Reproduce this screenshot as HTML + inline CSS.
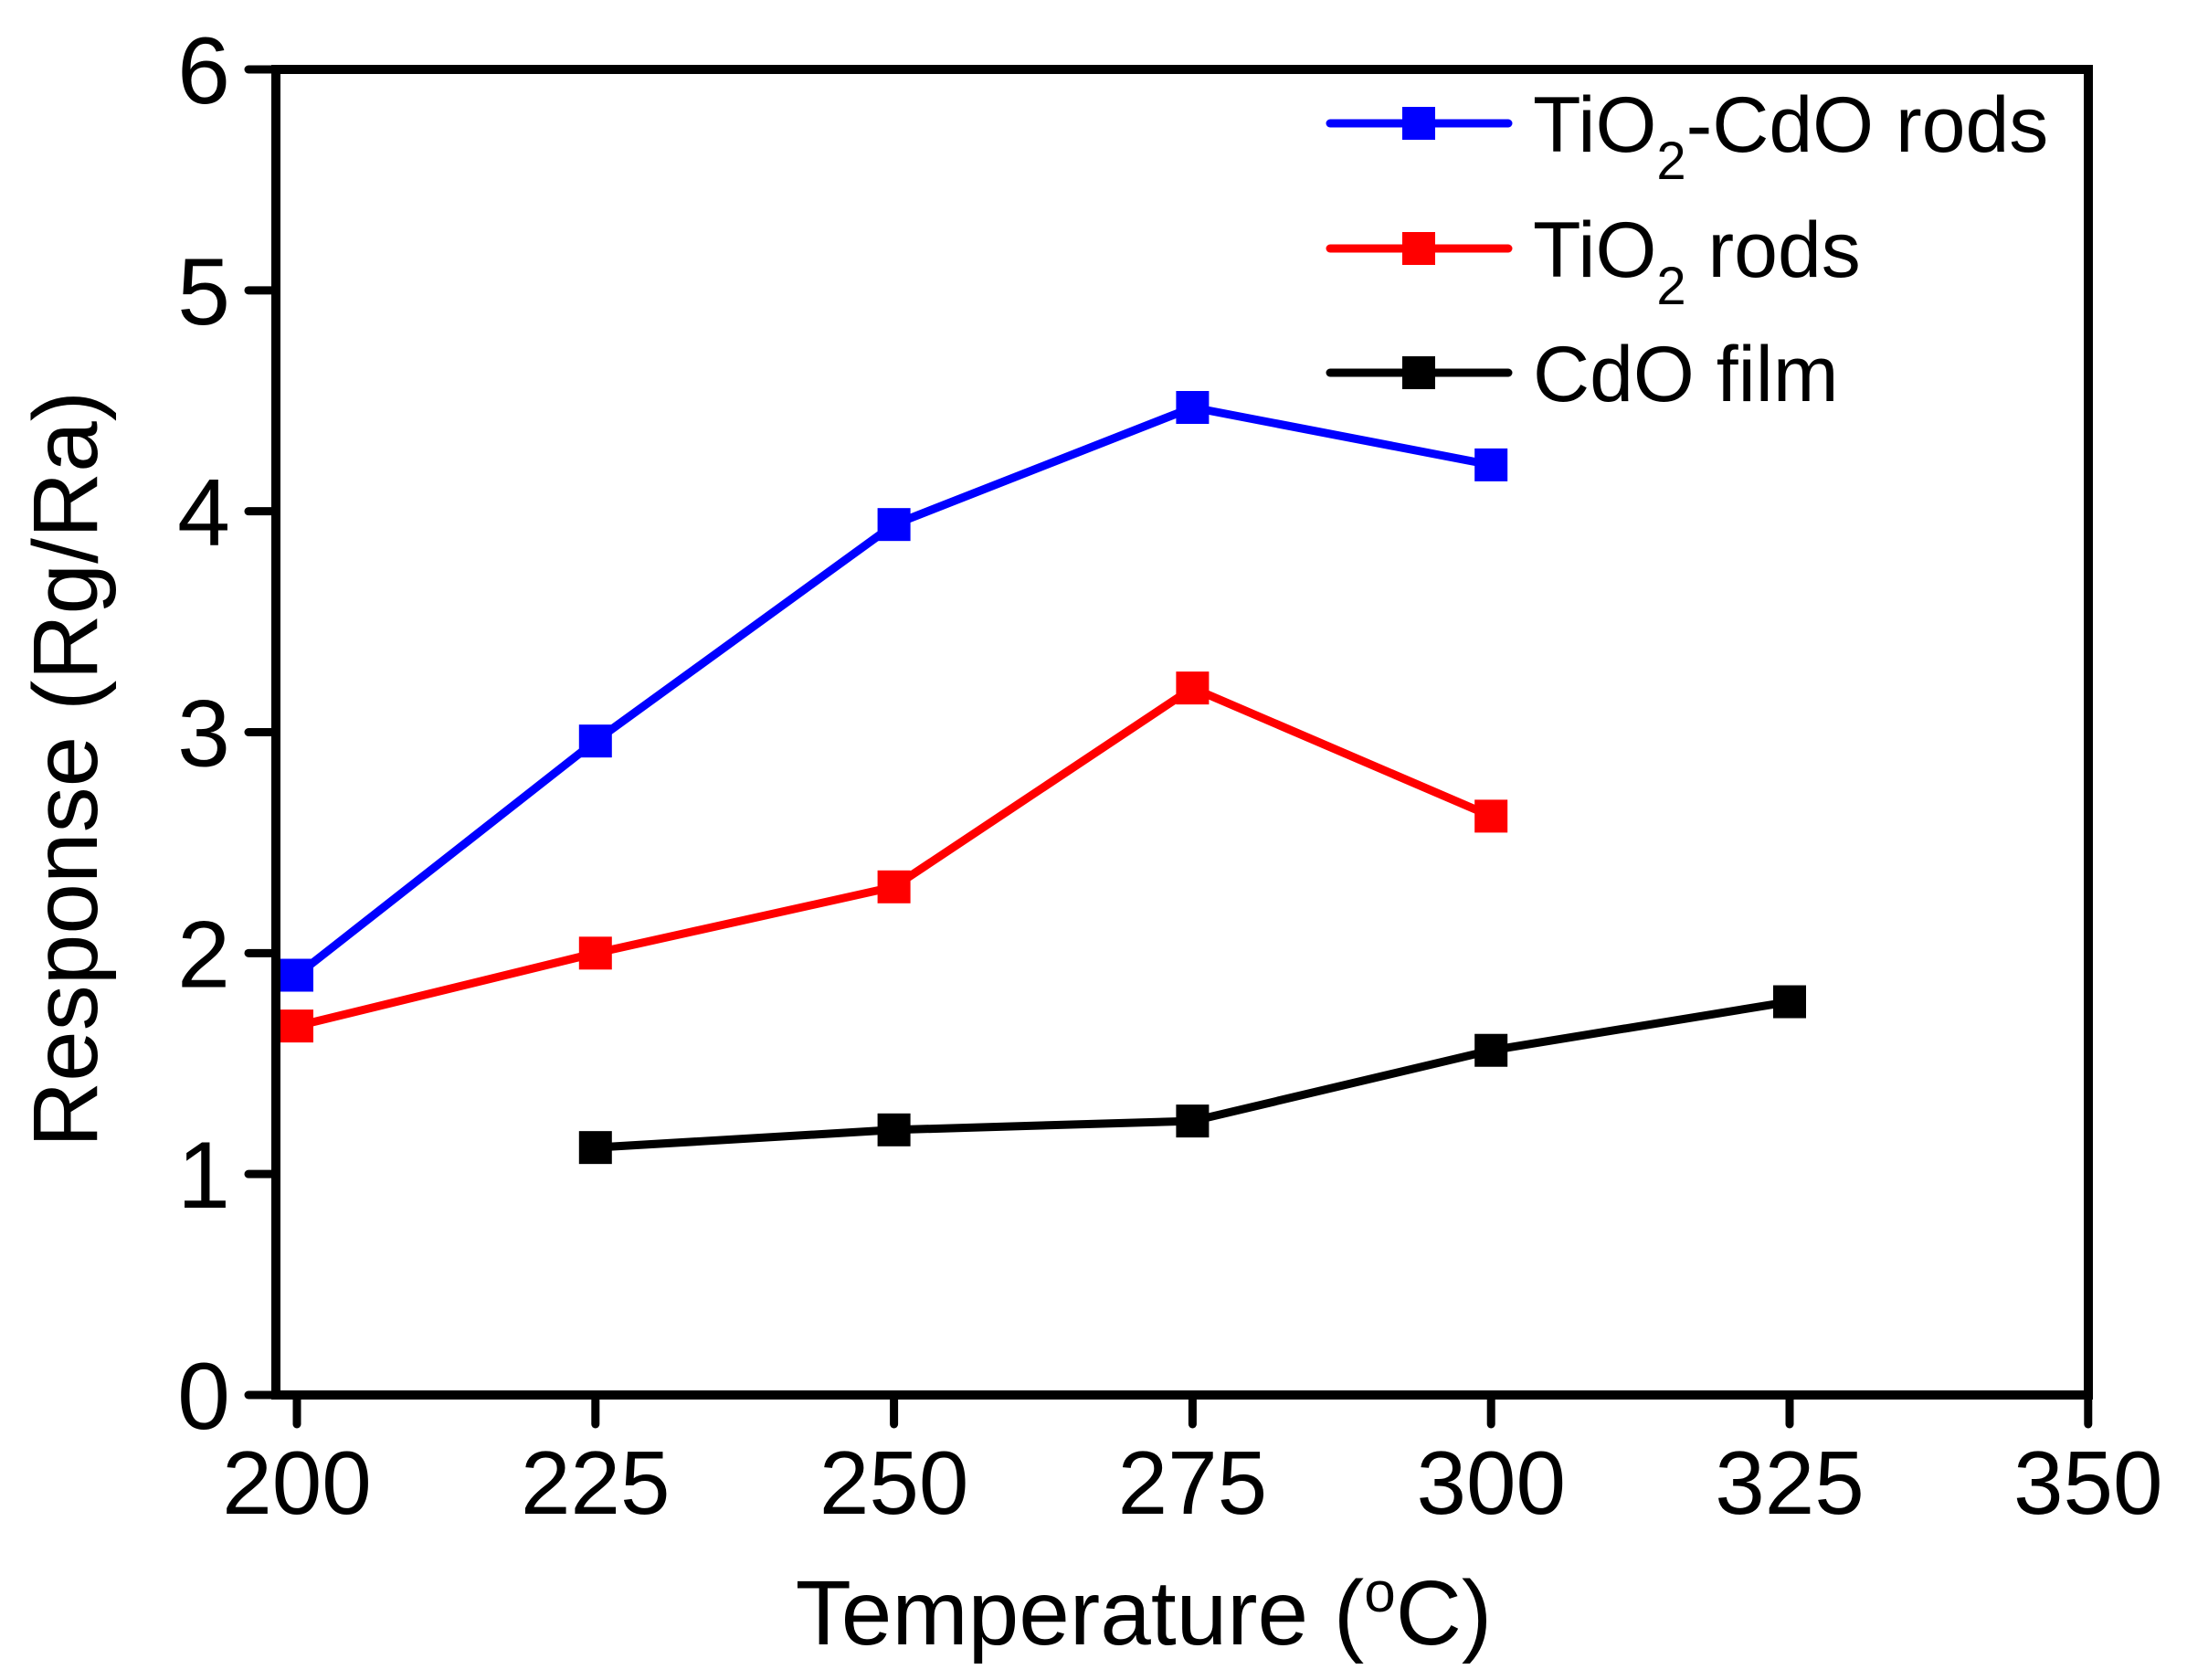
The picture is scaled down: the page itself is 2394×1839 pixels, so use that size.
<!DOCTYPE html>
<html><head><meta charset="utf-8"><style>
body{margin:0;background:#fff}
svg{display:block;font-family:"Liberation Sans",Arial,sans-serif}
</style></head><body>
<svg id="chart" width="2394" height="1839" viewBox="0 0 2394 1839" xmlns="http://www.w3.org/2000/svg">
<rect width="2394" height="1839" fill="#fff"/>
<g id="plot"></g>
</svg>
<script>
const xTicks=[200,225,250,275,300,325,350];
const yTicks=[0,1,2,3,4,5,6];
const tempsA=[200,225,250,275,300];
const tioCdo=[1.9,2.96,3.94,4.47,4.21];
const tio=[1.67,2.0,2.3,3.2,2.62];
const tempsC=[225,250,275,300,325];
const cdo=[1.12,1.2,1.24,1.56,1.78];
const seriesNames=["TiO2-CdO rods","TiO2 rods","CdO film"];

const L=302,R=2286,T=76,B=1527;
const X=v=>325+(v-200)*(1959-325)/125;
const Y=v=>B-(v-0)*(B-T)/6;
const NS="http://www.w3.org/2000/svg";
const g=document.getElementById('plot');
function el(t,a,p){const e=document.createElementNS(NS,t);for(const k in a)e.setAttribute(k,a[k]);(p||g).appendChild(e);return e;}

const frame=el('rect',{x:L,y:T,width:R-L,height:B-T,fill:'none',stroke:'#000','stroke-width':10});



xTicks.forEach(v=>{
  const t=el('line',{x1:X(v),x2:X(v),y1:B,y2:B+32,stroke:'#000','stroke-width':9,'stroke-linecap':'round'});
  
  
  const s=el('text',{x:X(v),y:1657,'font-size':98,'text-anchor':'middle'});
  s.textContent=v;
  
  
});
yTicks.forEach(v=>{
  const t=el('line',{x1:L,x2:L-30,y1:Y(v),y2:Y(v),stroke:'#000','stroke-width':9,'stroke-linecap':'round'});
  
  
  const s=el('text',{x:252,y:Y(v)+37,'font-size':104,'text-anchor':'end'});
  s.textContent=v;
  
  
});

const xt=el('text',{x:1252,y:1800,'font-size':100,'text-anchor':'middle'});
xt.innerHTML='Temperature (<tspan dy="-36" font-size="62">o</tspan><tspan dy="36">C)</tspan>';


const yt=el('text',{x:0,y:0,'font-size':100,'text-anchor':'middle',transform:'translate(106,842) rotate(-90)'});
yt.textContent='Response (Rg/Ra)';



function series(xs,ys,color,name){
  const pts=xs.map((x,i)=>X(x)+','+Y(ys[i])).join(' ');
  const pl=el('polyline',{points:pts,fill:'none',stroke:color,'stroke-width':9,'stroke-linejoin':'round'});
  
  
  xs.forEach((x,i)=>{
    const m=el('rect',{x:X(x)-18,y:Y(ys[i])-18,width:36,height:36,fill:color});
    
    
  });
}
series(tempsA,tioCdo,'#0000ff','tio2-cdo-rods');
series(tempsA,tio,'#ff0000','tio2-rods');
series(tempsC,cdo,'#000000','cdo-film');

const legY=[135,272,408],cols=['#0000ff','#ff0000','#000000'];
const labels=['TiO<tspan dy="30" font-size="58">2</tspan><tspan dy="-30">-CdO rods</tspan>','TiO<tspan dy="30" font-size="58">2</tspan><tspan dy="-30"> rods</tspan>','CdO film'];
legY.forEach((y,i)=>{
  const ln=el('line',{x1:1456,x2:1651,y1:y,y2:y,stroke:cols[i],'stroke-width':9,'stroke-linecap':'round'});
  
  
  const m=el('rect',{x:1535,y:y-18,width:36,height:36,fill:cols[i]});
  
  
  const t=el('text',{x:1678,y:y+31,'font-size':86});
  t.innerHTML=labels[i];
  
  
});
</script>
</body></html>
